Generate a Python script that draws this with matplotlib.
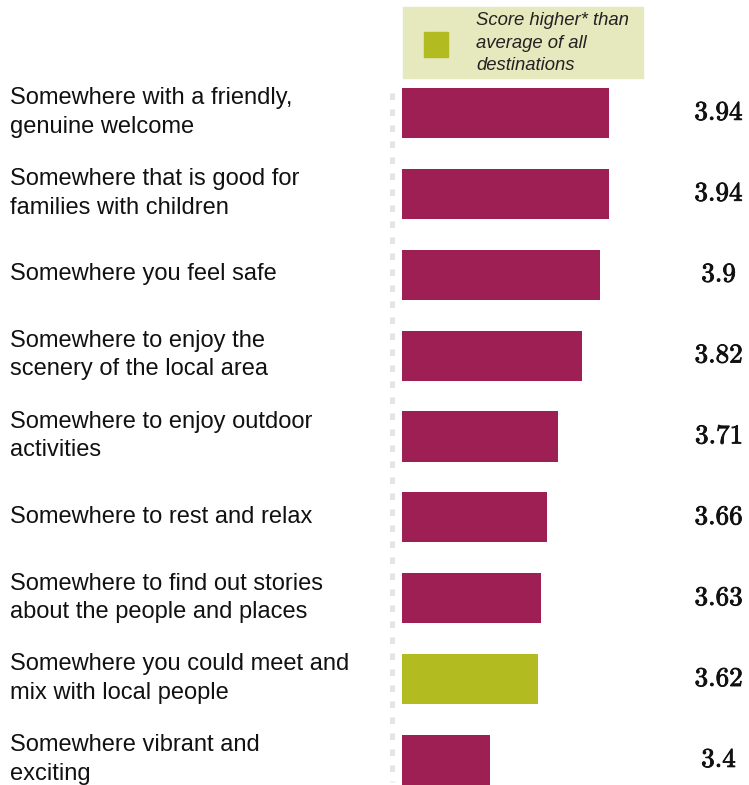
import matplotlib
matplotlib.use("Agg")
from matplotlib import pyplot as plt
from matplotlib import transforms
from matplotlib import patheffects
from matplotlib.patches import Rectangle

matplotlib.rcParams.update({
    'font.family': ['Liberation Sans', 'DejaVu Sans'],
    'mathtext.fontset': 'cm',
})

categories = [
    'Somewhere with a friendly,\ngenuine welcome',
    'Somewhere that is good for\nfamilies with children',
    'Somewhere you feel safe',
    'Somewhere to enjoy the\nscenery of the local area',
    'Somewhere to enjoy outdoor\nactivities',
    'Somewhere to rest and relax',
    'Somewhere to find out stories\nabout the people and places',
    'Somewhere you could meet and\nmix with local people',
    'Somewhere vibrant and\nexciting',
]
scores = [3.94, 3.94, 3.9, 3.82, 3.71, 3.66, 3.63, 3.62, 3.4]
above_average = [False, False, False, False, False, False, False, True, False]
score_labels = ['3.94', '3.94', '3.9', '3.82', '3.71', '3.66', '3.63', '3.62', '3.4']

MAGENTA = '#9e1f53'
GREEN = '#b2bb1f'
W, H = 749, 785

fig = plt.figure(figsize=(W / 100, H / 100), dpi=100)
# axes: left edge at 380px, 220px per score unit starting at 3.0 (402px)
ax_left = 380
ax_top = 72.5
ax = fig.add_axes([ax_left / W, 0, (W - ax_left) / W, (H - ax_top) / H])
x0 = 3.0 - (402 - ax_left) / 220
x1 = x0 + (W - ax_left) / 220
ax.set_xlim(x0, x1)
ax.set_ylim(8 + 25 / 80.9, -0.5)
ax.axis('off')

ypos = list(range(len(categories)))
colors = [GREEN if a else MAGENTA for a in above_average]
ax.barh(ypos, [s - 3.0 for s in scores], left=3.0, height=0.62, color=colors)

# dashed reference line
ax.plot([3.0 - 10 / 220] * 2, [-0.25, 8.27], color='#e4e4e4', lw=3.6,
        dashes=(1.3, 1.9), solid_capstyle='butt')

label_tf = transforms.blended_transform_factory(fig.transFigure, ax.transData)
for y, lab in zip(ypos, categories):
    ax.text(10 / W, y - 0.005, lab, transform=label_tf, fontsize=17.0,
            va='center', ha='left', linespacing=1.38, color='#111111')

for y, val in zip(ypos, score_labels):
    ax.text((719 - ax_left) / (W - ax_left), y, '$' + val + '$',
            transform=ax.get_yaxis_transform(), fontsize=19.5,
            va='center', ha='center', color='#111111',
            path_effects=[patheffects.withStroke(linewidth=0.6, foreground='#111111')])

# legend box
fig.patches.append(Rectangle((403 / W, 1 - 78 / H), 240 / W, 71 / H,
                             transform=fig.transFigure, color='#e6e8bd', zorder=0))
fig.patches.append(Rectangle((424 / W, 1 - 57 / H), 24 / W, 25 / H,
                             transform=fig.transFigure, color=GREEN, zorder=1))
fig.text(476 / W, 1 - 43 / H, 'Score higher* than\naverage of all\ndestinations',
         fontsize=13.3, style='italic', va='center', ha='left', linespacing=1.45,
         color='#222222')

fig.savefig('out.png', dpi=100)
